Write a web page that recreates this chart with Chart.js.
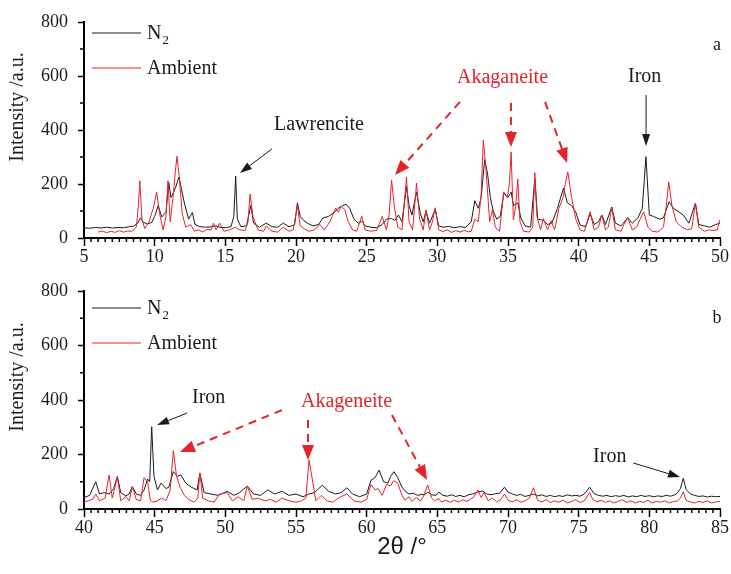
<!DOCTYPE html>
<html lang="en">
<head>
<meta charset="UTF-8">
<title>XRD patterns</title>
<style>
  body { margin: 0; background: #fff; }
  .wrap { position: relative; width: 731px; height: 574px; }
  canvas { position: absolute; left: 0; }
  #chartA { top: 0; }
  #chartB { top: 270px; }
</style>
</head>
<body>
<div class="wrap">
  <canvas id="chartA" width="731" height="270"></canvas>
  <canvas id="chartB" width="731" height="304"></canvas>
</div>
<script src="https://cdn.jsdelivr.net/npm/chart.js@4"></script>
<script>
// ---- panel a (5-50 deg) ----
const aN2X = [
  5, 5.4, 5.8, 6.2, 6.6, 7.0, 7.4, 7.8, 8.2, 8.5, 8.8, 9.0,
  9.2, 9.5, 9.8, 10.0, 10.25, 10.5, 10.8, 11.0, 11.15, 11.3,
  11.5, 11.72, 11.9, 12.1, 12.4, 12.67, 12.85, 13.2, 13.6, 14.0,
  14.3, 14.6, 15.0, 15.4, 15.6, 15.73, 15.85, 16.1, 16.5, 16.8,
  17.0, 17.4, 17.9, 18.3, 18.7, 19.1, 19.5, 19.9, 20.1, 20.3,
  20.55, 20.8, 21.2, 21.6, 21.9, 22.3, 22.7, 23.0, 23.3, 23.55,
  23.8, 24.1, 24.4, 24.65, 24.9, 25.3, 25.7, 26.1, 26.4, 26.76,
  27.0, 27.25, 27.5, 27.82, 28.0, 28.2, 28.53, 28.8, 29.0, 29.2,
  29.45, 29.85, 30.1, 30.4, 30.8, 31.2, 31.6, 32.0, 32.4, 32.65, 32.9,
  33.1, 33.35, 33.55, 33.75, 33.95, 34.2, 34.45, 34.7, 35.0, 35.22,
  35.4, 35.7, 35.9, 36.2, 36.6, 36.9, 37.1, 37.5, 37.8, 38.1,
  38.5, 38.93, 39.2, 39.5, 39.8, 40.1, 40.5, 40.81, 41.1, 41.4,
  41.64, 41.9, 42.34, 42.6, 43.0, 43.47, 43.8, 44.2, 44.5, 44.76,
  45.0, 45.3, 45.7, 46.0, 46.4, 46.7, 47.0, 47.4, 47.8, 48.26,
  48.5, 48.9, 49.3, 49.7, 50.0
];
const aN2Y = [
  38, 36, 39, 37, 40, 37, 39, 38, 42, 44, 55, 75,
  58, 52, 58, 80, 120, 78, 95, 205, 150, 165,
  190, 226, 180, 130, 70, 94, 50, 42, 40, 41,
  45, 40, 38, 42, 80, 229, 70, 42, 45, 120,
  55, 40, 55, 42, 40, 55, 42, 48, 130, 80,
  65, 55, 45, 50, 74, 80, 95, 110, 120, 125,
  110, 70, 55, 62, 45, 40, 38, 50, 70, 72,
  65, 85, 60, 190, 120, 85, 170, 90, 60, 100,
  55, 105, 45, 40, 43, 38, 42, 39, 60, 138, 110,
  150, 290, 240, 150, 100, 70, 80, 165, 150, 170,
  120, 130, 75, 45, 40, 220, 70, 65, 50, 55,
  110, 185, 130, 120, 95, 48, 42, 90, 50, 60,
  85, 50, 115, 55, 45, 75, 55, 75, 110, 301,
  85, 80, 70, 75, 134, 110, 100, 85, 55, 129,
  50, 45, 40, 50, 55
];
const aAmbX = [
  6.0, 6.3, 6.6, 6.9, 7.2, 7.5, 7.8, 8.1, 8.4, 8.7, 8.85, 8.95, 9.1,
  9.3, 9.6, 9.9, 10.14, 10.35, 10.6, 10.8, 10.94, 11.1, 11.3,
  11.45, 11.58, 11.75, 11.95, 12.2, 12.55, 12.8, 13.1, 13.4, 13.7, 14.0,
  14.15, 14.35, 14.6, 14.9, 15.3, 15.7, 16.0, 16.4, 16.6, 16.75,
  16.95, 17.3, 17.7, 17.9, 18.3, 18.7, 19.1, 19.5, 19.8, 20.1,
  20.3, 20.55, 20.9, 21.3, 21.7, 22.0, 22.4, 22.8, 23.0, 23.2,
  23.45, 23.7, 24.0, 24.3, 24.65, 24.9, 25.3, 25.7, 26.1, 26.4,
  26.6, 26.76, 26.95, 27.2, 27.5, 27.82, 28.0, 28.25, 28.53, 28.75,
  29.0, 29.2, 29.45, 29.65, 29.85, 30.1, 30.4, 30.7, 31.0, 31.3, 31.6, 31.9, 32.2,
  32.4, 32.65, 32.9, 33.1, 33.25, 33.45, 33.7, 33.9, 34.1, 34.4,
  34.7, 34.95, 35.1, 35.22, 35.38, 35.55, 35.69, 35.85, 36.1, 36.5,
  36.75, 36.9, 37.05, 37.3, 37.5, 37.8, 38.05, 38.3, 38.6, 38.9,
  39.05, 39.23, 39.5, 39.8, 40.1, 40.4, 40.81, 41.1, 41.4, 41.64,
  41.9, 42.1, 42.34, 42.6, 43.0, 43.2, 43.47, 43.8, 44.1, 44.35,
  44.6, 44.9, 45.2, 45.6, 46.0, 46.2, 46.37, 46.6, 46.9, 47.3,
  47.7, 48.0, 48.26, 48.5, 48.9, 49.2, 49.5, 49.8, 50.0
];
const aAmbY = [
  22, 26, 20, 25, 21, 27, 22, 26, 25, 40, 120, 212, 70,
  35, 60, 110, 170, 90, 30, 80, 212, 60, 150,
  240, 303, 220, 90, 40, 50, 25, 30, 22, 32, 30,
  55, 30, 55, 25, 30, 40, 30, 28, 60, 163,
  80, 30, 25, 45, 25, 22, 40, 25, 30, 120,
  45, 35, 25, 30, 50, 30, 60, 111, 95, 118,
  105, 60, 30, 25, 81, 30, 25, 28, 80, 30,
  90, 215, 120, 40, 30, 226, 60, 30, 203, 70,
  30, 104, 30, 60, 112, 30, 24, 30, 21, 27, 22, 28, 23,
  25, 70, 60, 160, 363, 250, 60, 104, 40, 25,
  171, 150, 200, 319, 67, 120, 218, 60, 25, 22,
  40, 242, 80, 30, 72, 30, 64, 30, 110, 150,
  200, 245, 150, 70, 30, 25, 97, 30, 40, 85,
  30, 40, 111, 30, 25, 50, 75, 30, 40, 70,
  97, 40, 25, 22, 40, 120, 208, 120, 60, 40,
  30, 35, 129, 40, 25, 30, 28, 30, 67
];

// ---- panel b (40-85 deg) ----
const bN2X = [
  40.0, 40.4, 40.83, 41.1, 41.4, 41.77, 42.1, 42.36, 42.6, 42.95,
  43.2, 43.42, 43.7, 44.0, 44.25, 44.5, 44.65, 44.79, 44.95, 45.2,
  45.45, 45.8, 46.0, 46.32, 46.6, 46.85, 47.2, 47.6, 48.0, 48.2,
  48.5, 49.0, 49.5, 50.14, 50.6, 51.0, 51.56, 52.0, 52.5, 53.0,
  53.5, 54.0, 54.5, 55.0, 55.5, 55.92, 56.3, 56.86, 57.3, 57.8,
  58.2, 58.6, 59.0, 59.5, 60.0, 60.3, 60.6, 60.87, 61.2, 61.5,
  61.7, 61.93,
  62.2, 62.5, 62.8, 63.0, 63.3, 63.6, 63.9, 64.1, 64.32, 64.6,
  64.9, 65.1, 65.4, 65.7, 66.0, 66.3, 66.6, 66.9, 67.2, 67.5,
  67.86, 68.2, 68.5, 68.8, 69.1, 69.4, 69.75, 70.0, 70.3, 70.6,
  70.9, 71.2, 71.5, 71.8, 72.1, 72.4, 72.7, 73.0, 73.3, 73.6,
  73.9, 74.2, 74.5, 74.8, 75.1, 75.4, 75.77, 76.1, 76.4, 76.7,
  77.0, 77.3, 77.6, 77.9, 78.2, 78.5, 78.8, 79.1, 79.4, 79.7,
  80.0, 80.3, 80.6, 80.9, 81.2, 81.5, 81.8, 82.0, 82.2, 82.4,
  82.6, 82.9, 83.2, 83.5, 83.8, 84.1, 84.4, 84.7, 85.0
];
const bN2Y = [
  42, 50, 100, 55, 60, 55, 75, 119, 60, 48,
  55, 82, 55, 50, 70, 110, 100, 302, 120, 70,
  95, 75, 80, 137, 120, 125, 95, 80, 70, 130,
  60, 55, 50, 65, 50, 60, 84, 55, 50, 70,
  55, 65, 50, 55, 45, 55, 60, 87, 65, 55,
  60, 78, 55, 45, 55, 105, 115, 143, 100, 95,
  120, 137,
  115, 80, 62, 55, 58, 50, 54, 52, 62, 52,
  50, 62, 50, 47, 52, 46, 50, 45, 52, 55,
  62, 66, 55, 52, 56, 58, 80, 62, 55, 50,
  54, 46, 50, 55, 48, 52, 46, 50, 45, 49,
  46, 52, 48, 50, 47, 55, 80, 56, 50, 47,
  50, 45, 49, 46, 50, 44, 48, 45, 50, 46,
  49, 45, 48, 46, 50, 47, 52, 60, 75, 113,
  72, 55, 50, 46, 48, 44, 47, 45, 46
];
const bAmbX = [
  40.0, 40.3, 40.6, 40.83, 41.1, 41.5, 41.77, 42.0, 42.36, 42.6,
  42.95, 43.2, 43.42, 43.7, 44.0, 44.25, 44.5, 44.7, 44.9, 45.2,
  45.5, 45.8, 46.1, 46.32, 46.55, 46.8, 47.1, 47.4, 47.8, 48.05,
  48.2, 48.4, 48.8, 49.2, 49.6, 50.14, 50.5, 50.9, 51.3, 51.56,
  51.9, 52.3, 52.8, 53.2, 53.6, 54.0, 54.5, 55.0, 55.4, 55.7,
  55.92, 56.15, 56.4, 56.8, 57.2, 57.6, 58.0, 58.6, 59.1, 59.6,
  60.0, 60.3, 60.6, 60.8, 61.1, 61.4, 61.7, 61.9,
  62.2, 62.5, 62.7, 63.0, 63.2, 63.5, 63.8, 64.0, 64.32, 64.6,
  64.8, 65.1, 65.3, 65.6, 65.9, 66.2, 66.5, 66.8, 67.1, 67.4,
  67.6, 67.86, 68.1, 68.3, 68.6, 68.9, 69.2, 69.5, 69.75, 70.0,
  70.3, 70.6, 70.9, 71.2, 71.5, 71.8, 72.1, 72.4, 72.7, 73.0,
  73.3, 73.6, 73.9, 74.2, 74.5, 74.8, 75.1, 75.4, 75.77, 76.0,
  76.3, 76.6, 76.9, 77.2, 77.5, 77.8, 78.1, 78.4, 78.7, 79.0,
  79.3, 79.6, 79.9, 80.2, 80.5, 80.8, 81.1, 81.4, 81.7, 82.0,
  82.2, 82.4, 82.6, 82.9, 83.2, 83.5, 83.8, 84.1, 84.4, 84.7,
  85.0
];
const bAmbY = [
  25, 30, 35, 55, 30, 40, 125, 40, 119, 30,
  45, 30, 82, 35, 30, 115, 100, 30, 25, 30,
  40, 30, 70, 214, 120, 80, 50, 35, 25, 40,
  133, 40, 30, 25, 55, 60, 30, 45, 30, 84,
  35, 40, 30, 35, 25, 40, 30, 25, 30, 40,
  180, 110, 30, 50, 30, 25, 40, 55, 30, 25,
  35, 90, 70, 75, 50, 90, 85, 104,
  95, 50, 32, 45, 28, 42, 30, 45, 88, 40,
  30, 38, 25, 33, 24, 32, 26, 34, 28, 38,
  45, 70, 42, 60, 30, 40, 26, 35, 55, 32,
  26, 34, 25, 30, 40, 78, 32, 26, 34, 24,
  30, 25, 32, 22, 28, 34, 24, 30, 60, 35,
  26, 32, 24, 30, 22, 28, 34, 24, 30, 22,
  28, 24, 32, 22, 28, 25, 30, 22, 27, 30,
  40, 63, 32, 26, 22, 28, 24, 30, 22, 26,
  28
];

const yTicks = [0, 200, 400, 600, 800];

const RED = '#e6222b';
const INK = '#1a1a1a';
const SERIF = '"Liberation Serif", "DejaVu Serif", serif';
const SANS = '"Liberation Sans", Arial, sans-serif';

// annotation positions are in data units of each panel
const notesA = [
  { text: 'Lawrencite', x: 18.44, y: 418, color: INK },
  { text: 'Akaganeite', x: 31.39, y: 593, color: RED },
  { text: 'Iron', x: 43.49, y: 596, color: INK }
];
const arrowsA = [
  { x1: 18.30, y1: 330, x2: 16.04, y2: 241, red: false },
  { x1: 31.60, y1: 504, x2: 27.00, y2: 233, red: true },
  { x1: 35.21, y1: 500, x2: 35.21, y2: 337, red: true },
  { x1: 37.62, y1: 504, x2: 39.18, y2: 278, red: true },
  { x1: 44.77, y1: 530, x2: 44.77, y2: 341, red: false }
];
const notesB = [
  { text: 'Iron', x: 47.64, y: 407, color: INK },
  { text: 'Akageneite', x: 55.35, y: 394, color: RED },
  { text: 'Iron', x: 76.02, y: 190, color: INK }
];
const arrowsB = [
  { x1: 47.29, y1: 352, x2: 45.17, y2: 308, red: false },
  { x1: 54.01, y1: 363, x2: 46.79, y2: 209, red: true },
  { x1: 55.85, y1: 327, x2: 55.85, y2: 180, red: true },
  { x1: 61.79, y1: 345, x2: 64.27, y2: 106, red: true },
  { x1: 78.85, y1: 169, x2: 82.17, y2: 117, red: false }
];

function pts(xs, ys) {
  return xs.map((x, i) => ({ x: x, y: ys[i] }));
}

function drawArrow(ctx, x1, y1, x2, y2, red) {
  const color = red ? RED : INK;
  const hl = red ? 15 : 12;
  const hw = red ? 6 : 4;
  const ang = Math.atan2(y2 - y1, x2 - x1);
  const bx = x2 - hl * Math.cos(ang);
  const by = y2 - hl * Math.sin(ang);
  ctx.strokeStyle = color;
  ctx.lineWidth = red ? 2 : 1;
  ctx.setLineDash(red ? [8, 6] : []);
  ctx.beginPath();
  ctx.moveTo(x1, y1);
  ctx.lineTo(bx, by);
  ctx.stroke();
  ctx.setLineDash([]);
  ctx.fillStyle = color;
  ctx.beginPath();
  ctx.moveTo(x2, y2);
  ctx.lineTo(bx + hw * Math.sin(ang), by - hw * Math.cos(ang));
  ctx.lineTo(bx - hw * Math.sin(ang), by + hw * Math.cos(ang));
  ctx.closePath();
  ctx.fill();
}

function decor(cfg) {
  return {
    id: 'decor',
    afterDraw(chart) {
      const ctx = chart.ctx;
      const ca = chart.chartArea;
      const x = chart.scales.x, y = chart.scales.y;
      ctx.save();

      // minor ticks
      ctx.strokeStyle = '#000';
      ctx.lineWidth = 1.5;
      for (let v = x.min; v <= x.max; v += 0.5) {
        if (v % 5 === 0) continue;
        const px = x.getPixelForValue(v);
        ctx.beginPath();
        ctx.moveTo(px, ca.bottom);
        ctx.lineTo(px, ca.bottom + 4);
        ctx.stroke();
      }
      for (let v = 100; v < 800; v += 200) {
        const py = y.getPixelForValue(v);
        ctx.beginPath();
        ctx.moveTo(ca.left - 4, py);
        ctx.lineTo(ca.left, py);
        ctx.stroke();
      }

      // y title
      ctx.save();
      ctx.translate(18, cfg.yTitleY);
      ctx.rotate(-Math.PI / 2);
      ctx.font = '20px ' + SERIF;
      ctx.fillStyle = INK;
      ctx.textAlign = 'center';
      ctx.textBaseline = 'middle';
      ctx.fillText('Intensity /a.u.', 0, 0);
      ctx.restore();

      // legend
      const lx = ca.left + 8;
      ctx.lineWidth = 1;
      ctx.strokeStyle = INK;
      ctx.beginPath();
      ctx.moveTo(lx, ca.top + cfg.leg1);
      ctx.lineTo(lx + 49, ca.top + cfg.leg1);
      ctx.stroke();
      ctx.strokeStyle = RED;
      ctx.beginPath();
      ctx.moveTo(lx, ca.top + cfg.leg2);
      ctx.lineTo(lx + 49, ca.top + cfg.leg2);
      ctx.stroke();
      ctx.fillStyle = INK;
      ctx.textBaseline = 'middle';
      ctx.textAlign = 'left';
      ctx.font = '20px ' + SERIF;
      ctx.fillText('N', lx + 55, ca.top + cfg.leg1 + 1);
      const nw = ctx.measureText('N').width;
      ctx.font = '13px ' + SERIF;
      ctx.fillText('2', lx + 55 + nw + 1, ca.top + cfg.leg1 + 8);
      ctx.font = '20px ' + SERIF;
      ctx.fillText('Ambient', lx + 55, ca.top + cfg.leg2 + 1);

      // panel letter
      ctx.font = '18px ' + SERIF;
      ctx.textAlign = 'center';
      ctx.fillText(cfg.letter, x.getPixelForValue(cfg.letterX), y.getPixelForValue(cfg.letterY));

      // notes and arrows
      ctx.font = '20px ' + SERIF;
      ctx.textAlign = 'left';
      cfg.notes.forEach(n => {
        ctx.fillStyle = n.color;
        ctx.fillText(n.text, x.getPixelForValue(n.x), y.getPixelForValue(n.y));
      });
      cfg.arrows.forEach(a => {
        drawArrow(ctx, x.getPixelForValue(a.x1), y.getPixelForValue(a.y1),
          x.getPixelForValue(a.x2), y.getPixelForValue(a.y2), a.red);
      });
      ctx.restore();
    }
  };
}

function makeChart(id, xmin, xmax, n2, amb, xHeight, padTop, xTitle, cfg) {
  const ctx = document.getElementById(id).getContext('2d');
  return new Chart(ctx, {
    type: 'line',
    data: {
      datasets: [
        { label: 'Ambient', data: amb, borderColor: RED, borderWidth: 1, pointRadius: 0, tension: 0 },
        { label: 'N2', data: n2, borderColor: INK, borderWidth: 1, pointRadius: 0, tension: 0 }
      ]
    },
    options: {
      responsive: false,
      animation: false,
      layout: { padding: { left: 0, right: 11, top: padTop, bottom: 0 } },
      plugins: { legend: { display: false }, tooltip: { enabled: false } },
      scales: {
        x: {
          type: 'linear',
          min: xmin,
          max: xmax,
          afterFit(scale) { scale.height = xHeight; },
          border: { display: true, color: '#000', width: 2 },
          grid: { drawOnChartArea: false, drawTicks: true, tickLength: 8, tickColor: '#000', tickWidth: 1.5 },
          ticks: {
            stepSize: 5,
            maxRotation: 0,
            autoSkip: false,
            padding: 0,
            color: INK,
            font: { family: SERIF, size: 18 }
          },
          title: xTitle
        },
        y: {
          min: 0,
          max: 800,
          afterFit(scale) { scale.width = 84; },
          afterBuildTicks(scale) { scale.ticks = yTicks.map(v => ({ value: v })); },
          border: { display: true, color: '#000', width: 2 },
          grid: { drawOnChartArea: false, drawTicks: true, tickLength: 6, tickColor: '#000', tickWidth: 1.5 },
          ticks: { padding: 10, color: INK, font: { family: SERIF, size: 18 } }
        }
      }
    },
    plugins: [decor(cfg)]
  });
}

makeChart('chartA', 5, 50, pts(aN2X, aN2Y), pts(aAmbX, aAmbY), 32, 22, { display: false }, {
  yTitleY: 107, leg1: 11, leg2: 46, letter: 'a', letterX: 49.79, letterY: 715,
  notes: notesA, arrows: arrowsA
});

makeChart('chartB', 40, 85, pts(bN2X, bN2Y), pts(bAmbX, bAmbY), 65, 21, {
  display: true,
  text: '2\u03b8 /\u00b0',
  color: INK,
  font: { family: SANS, size: 24 },
  padding: { top: 0, bottom: 12 }
}, {
  yTitleY: 107, leg1: 17, leg2: 52, letter: 'b', letterX: 84.79, letterY: 701,
  notes: notesB, arrows: arrowsB
});
</script>
</body>
</html>
